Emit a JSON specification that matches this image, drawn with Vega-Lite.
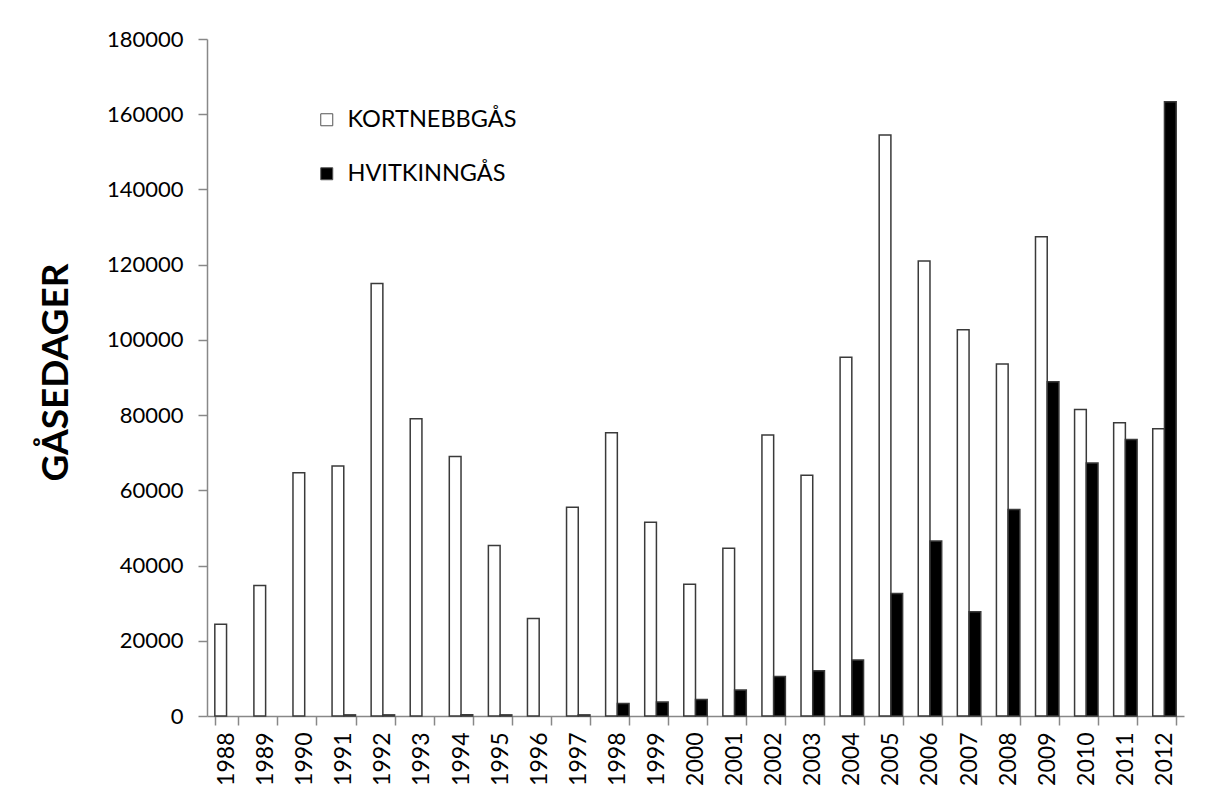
{
  "$schema": "https://vega.github.io/schema/vega-lite/v6.json",
  "autosize": {"type": "none"},
  "width": 977,
  "height": 677,
  "padding": {"left": 207, "top": 39, "right": 21, "bottom": 76},
  "background": "white",
  "config": {
    "view": {"stroke": null},
    "font": "Lato",
    "axis": {"labelFont": "Lato", "labelColor": "#000", "domainColor": "#888", "tickColor": "#888", "domainWidth": 1.5, "tickWidth": 1.5}
  },
  "data": {
    "values": [
      {"year": "1988", "series": "KORTNEBBGÅS", "value": 24400},
      {"year": "1989", "series": "KORTNEBBGÅS", "value": 34700},
      {"year": "1990", "series": "KORTNEBBGÅS", "value": 64700},
      {"year": "1991", "series": "KORTNEBBGÅS", "value": 66500},
      {"year": "1992", "series": "KORTNEBBGÅS", "value": 115000},
      {"year": "1993", "series": "KORTNEBBGÅS", "value": 79000},
      {"year": "1994", "series": "KORTNEBBGÅS", "value": 69000},
      {"year": "1995", "series": "KORTNEBBGÅS", "value": 45300},
      {"year": "1996", "series": "KORTNEBBGÅS", "value": 25900},
      {"year": "1997", "series": "KORTNEBBGÅS", "value": 55500},
      {"year": "1998", "series": "KORTNEBBGÅS", "value": 75300},
      {"year": "1999", "series": "KORTNEBBGÅS", "value": 51500},
      {"year": "2000", "series": "KORTNEBBGÅS", "value": 35000},
      {"year": "2001", "series": "KORTNEBBGÅS", "value": 44600},
      {"year": "2002", "series": "KORTNEBBGÅS", "value": 74700},
      {"year": "2003", "series": "KORTNEBBGÅS", "value": 64000},
      {"year": "2004", "series": "KORTNEBBGÅS", "value": 95400},
      {"year": "2005", "series": "KORTNEBBGÅS", "value": 154500},
      {"year": "2006", "series": "KORTNEBBGÅS", "value": 121000},
      {"year": "2007", "series": "KORTNEBBGÅS", "value": 102700},
      {"year": "2008", "series": "KORTNEBBGÅS", "value": 93600},
      {"year": "2009", "series": "KORTNEBBGÅS", "value": 127400},
      {"year": "2010", "series": "KORTNEBBGÅS", "value": 81500},
      {"year": "2011", "series": "KORTNEBBGÅS", "value": 78000},
      {"year": "2012", "series": "KORTNEBBGÅS", "value": 76400},
      {"year": "1991", "series": "HVITKINNGÅS", "value": 300},
      {"year": "1992", "series": "HVITKINNGÅS", "value": 300},
      {"year": "1994", "series": "HVITKINNGÅS", "value": 300},
      {"year": "1995", "series": "HVITKINNGÅS", "value": 300},
      {"year": "1997", "series": "HVITKINNGÅS", "value": 300},
      {"year": "1998", "series": "HVITKINNGÅS", "value": 3300},
      {"year": "1999", "series": "HVITKINNGÅS", "value": 3700},
      {"year": "2000", "series": "HVITKINNGÅS", "value": 4400},
      {"year": "2001", "series": "HVITKINNGÅS", "value": 6900},
      {"year": "2002", "series": "HVITKINNGÅS", "value": 10500},
      {"year": "2003", "series": "HVITKINNGÅS", "value": 12000},
      {"year": "2004", "series": "HVITKINNGÅS", "value": 14900},
      {"year": "2005", "series": "HVITKINNGÅS", "value": 32600},
      {"year": "2006", "series": "HVITKINNGÅS", "value": 46500},
      {"year": "2007", "series": "HVITKINNGÅS", "value": 27700},
      {"year": "2008", "series": "HVITKINNGÅS", "value": 54900},
      {"year": "2009", "series": "HVITKINNGÅS", "value": 88900},
      {"year": "2010", "series": "HVITKINNGÅS", "value": 67300},
      {"year": "2011", "series": "HVITKINNGÅS", "value": 73500},
      {"year": "2012", "series": "HVITKINNGÅS", "value": 163300}
    ]
  },
  "mark": {"type": "bar", "stroke": "#3a3a3a", "strokeWidth": 1.5, "cornerRadius": 0},
  "encoding": {
    "x": {
      "field": "year", "type": "nominal",
      "scale": {"paddingInner": 0.4, "paddingOuter": 0.2},
      "axis": {
        "title": null, "labelAngle": -90, "labelAlign": "right", "labelBaseline": "middle",
        "labelFontSize": 23, "labelPadding": 7, "tickSize": 9, "tickBand": "extent"
      }
    },
    "xOffset": {"field": "series", "type": "nominal", "sort": ["KORTNEBBGÅS", "HVITKINNGÅS"], "scale": {"paddingInner": 0, "paddingOuter": 0}},
    "y": {
      "field": "value", "type": "quantitative",
      "scale": {"domain": [0, 180000], "nice": false},
      "axis": {
        "title": "GÅSEDAGER", "titleFont": "Lato", "titleFontWeight": "bold", "titleFontSize": 37, "titleColor": "#000",
        "titleAngle": -90, "titleAlign": "center", "titleBaseline": "alphabetic", "titleX": -140, "titleY": 333,
        "values": [0, 20000, 40000, 60000, 80000, 100000, 120000, 140000, 160000, 180000],
        "format": "d", "labelFontSize": 22, "labelPadding": 15, "tickSize": 9, "grid": false
      }
    },
    "fill": {
      "field": "series", "type": "nominal",
      "sort": ["KORTNEBBGÅS", "HVITKINNGÅS"],
      "scale": {"domain": ["KORTNEBBGÅS", "HVITKINNGÅS"], "range": ["#ffffff", "#000000"]},
      "legend": {
        "title": null, "orient": "none", "legendX": 108, "legendY": 69, "padding": 0,
        "symbolType": "square", "symbolSize": 144, "symbolStrokeColor": "#555", "symbolStrokeWidth": 1,
        "labelFont": "Lato", "labelFontSize": 23.5, "labelColor": "#000", "labelOffset": 9, "labelLimit": 400, "rowPadding": 29
      }
    }
  }
}
